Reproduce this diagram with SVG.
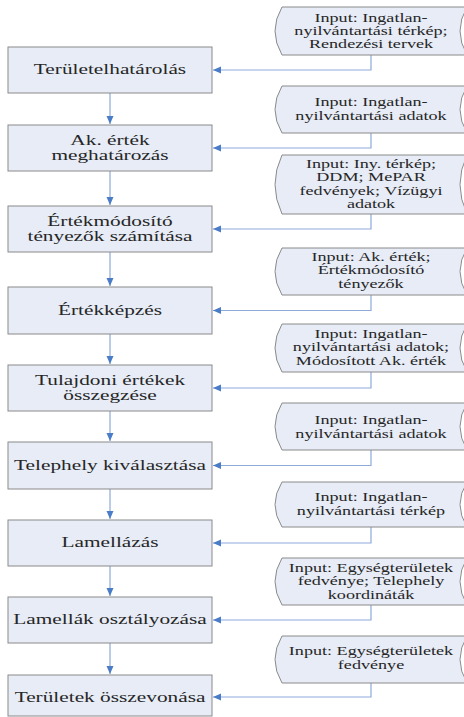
<svg xmlns="http://www.w3.org/2000/svg" width="464" height="717" viewBox="0 0 464 717">
<style>
.box{fill:#e7ecf6;stroke:#8a8a8a;stroke-width:1}
.inp{fill:#e7ecf6;stroke:#8a8a8a;stroke-width:1}
.bt{font-family:"Liberation Serif","Times New Roman",serif;font-size:14.5px;fill:#262626;text-anchor:middle}
.it{font-family:"Liberation Serif","Times New Roman",serif;font-size:12.5px;fill:#262626;text-anchor:middle}
.con{fill:none;stroke:#8eaadb;stroke-width:1.2}
</style>
<defs>
<marker id="ah" markerUnits="userSpaceOnUse" markerWidth="9" markerHeight="8" refX="8" refY="3.5" orient="auto">
<path d="M0,0 L8,3.5 L0,7 z" fill="#4a7cc7"/>
</marker>
</defs>
<rect width="464" height="717" fill="#ffffff"/>
<g id="connectors">
<path class="con" d="M110 93V124" marker-end="url(#ah)"/>
<path class="con" d="M110 171V205" marker-end="url(#ah)"/>
<path class="con" d="M110 252V286" marker-end="url(#ah)"/>
<path class="con" d="M110 334V364" marker-end="url(#ah)"/>
<path class="con" d="M110 411V441" marker-end="url(#ah)"/>
<path class="con" d="M110 489V519" marker-end="url(#ah)"/>
<path class="con" d="M110 566V596" marker-end="url(#ah)"/>
<path class="con" d="M110 643V674" marker-end="url(#ah)"/>
<path class="con" d="M371 55V70H213" marker-end="url(#ah)"/>
<path class="con" d="M371 133V148H213" marker-end="url(#ah)"/>
<path class="con" d="M371 214V229H213" marker-end="url(#ah)"/>
<path class="con" d="M371 295V310.5H213" marker-end="url(#ah)"/>
<path class="con" d="M371 372V388H213" marker-end="url(#ah)"/>
<path class="con" d="M371 450V465.5H213" marker-end="url(#ah)"/>
<path class="con" d="M371 527V543H213" marker-end="url(#ah)"/>
<path class="con" d="M371 605V620H213" marker-end="url(#ah)"/>
<path class="con" d="M371 683V697H213" marker-end="url(#ah)"/>
</g>
<g id="p1"><rect class="box" x="8" y="47" width="204" height="46"/><text class="bt" transform="translate(110 0) scale(1.47 1)" x="0" y="74.5">Területelhatárolás</text></g>
<g id="p2"><rect class="box" x="8" y="125" width="204" height="46"/><text class="bt" transform="translate(110 0) scale(1.47 1)"><tspan x="0" y="145">Ak. érték</tspan><tspan x="0" y="160">meghatározás</tspan></text></g>
<g id="p3"><rect class="box" x="8" y="206" width="204" height="46"/><text class="bt" transform="translate(110 0) scale(1.47 1)"><tspan x="0" y="226">Értékmódosító</tspan><tspan x="0" y="241">tényezők számítása</tspan></text></g>
<g id="p4"><rect class="box" x="8" y="287" width="204" height="47"/><text class="bt" transform="translate(110 0) scale(1.47 1)" x="0" y="315">Értékképzés</text></g>
<g id="p5"><rect class="box" x="8" y="365" width="204" height="46"/><text class="bt" transform="translate(110 0) scale(1.47 1)"><tspan x="0" y="385">Tulajdoni értékek</tspan><tspan x="0" y="400">összegzése</tspan></text></g>
<g id="p6"><rect class="box" x="8" y="442" width="204" height="47"/><text class="bt" transform="translate(110 0) scale(1.47 1)" x="0" y="470">Telephely kiválasztása</text></g>
<g id="p7"><rect class="box" x="8" y="520" width="204" height="46"/><text class="bt" transform="translate(110 0) scale(1.47 1)" x="0" y="547.5">Lamellázás</text></g>
<g id="p8"><rect class="box" x="8" y="597" width="204" height="46"/><text class="bt" transform="translate(110 0) scale(1.47 1)" x="0" y="624.5">Lamellák osztályozása</text></g>
<g id="p9"><rect class="box" x="8" y="675" width="204" height="41"/><text class="bt" transform="translate(110 0) scale(1.47 1)" x="0" y="702">Területek összevonása</text></g>
<g id="i1"><path class="inp" d="M282 7H467Q453 31 467 55H282Q268 31 282 7Z"/><text class="it" transform="translate(371 0) scale(1.45 1)"><tspan x="0" y="22">Input: Ingatlan-</tspan><tspan x="0" y="35">nyilvántartási térkép;</tspan><tspan x="0" y="48">Rendezési tervek</tspan></text></g>
<g id="i2"><path class="inp" d="M282 86H467Q453 109.5 467 133H282Q268 109.5 282 86Z"/><text class="it" transform="translate(371 0) scale(1.45 1)"><tspan x="0" y="106">Input: Ingatlan-</tspan><tspan x="0" y="120">nyilvántartási adatok</tspan></text></g>
<g id="i3"><path class="inp" d="M282 155H467Q453 184.5 467 214H282Q268 184.5 282 155Z"/><text class="it" transform="translate(371 0) scale(1.45 1)"><tspan x="0" y="168">Input: Iny. térkép;</tspan><tspan x="0" y="181.5">DDM; MePAR</tspan><tspan x="0" y="195">fedvények; Vízügyi</tspan><tspan x="0" y="208.5">adatok</tspan></text></g>
<g id="i4"><path class="inp" d="M282 248H467Q453 271.5 467 295H282Q268 271.5 282 248Z"/><text class="it" transform="translate(371 0) scale(1.45 1)"><tspan x="0" y="261">Input: Ak. érték;</tspan><tspan x="0" y="274.5">Értékmódosító</tspan><tspan x="0" y="288">tényezők</tspan></text></g>
<g id="i5"><path class="inp" d="M282 324H467Q453 348 467 372H282Q268 348 282 324Z"/><text class="it" transform="translate(371 0) scale(1.45 1)"><tspan x="0" y="338">Input: Ingatlan-</tspan><tspan x="0" y="351.5">nyilvántartási adatok;</tspan><tspan x="0" y="365">Módosított Ak. érték</tspan></text></g>
<g id="i6"><path class="inp" d="M282 403H467Q453 426.5 467 450H282Q268 426.5 282 403Z"/><text class="it" transform="translate(371 0) scale(1.45 1)"><tspan x="0" y="424">Input: Ingatlan-</tspan><tspan x="0" y="438">nyilvántartási adatok</tspan></text></g>
<g id="i7"><path class="inp" d="M282 482H467Q453 504.5 467 527H282Q268 504.5 282 482Z"/><text class="it" transform="translate(371 0) scale(1.45 1)"><tspan x="0" y="501">Input: Ingatlan-</tspan><tspan x="0" y="515">nyilvántartási térkép</tspan></text></g>
<g id="i8"><path class="inp" d="M282 558H467Q453 581.5 467 605H282Q268 581.5 282 558Z"/><text class="it" transform="translate(371 0) scale(1.45 1)"><tspan x="0" y="572">Input: Egységterületek</tspan><tspan x="0" y="585.5">fedvénye; Telephely</tspan><tspan x="0" y="599">koordináták</tspan></text></g>
<g id="i9"><path class="inp" d="M282 636H467Q453 659.5 467 683H282Q268 659.5 282 636Z"/><text class="it" transform="translate(371 0) scale(1.45 1)"><tspan x="0" y="655">Input: Egységterületek</tspan><tspan x="0" y="669">fedvénye</tspan></text></g>
</svg>
